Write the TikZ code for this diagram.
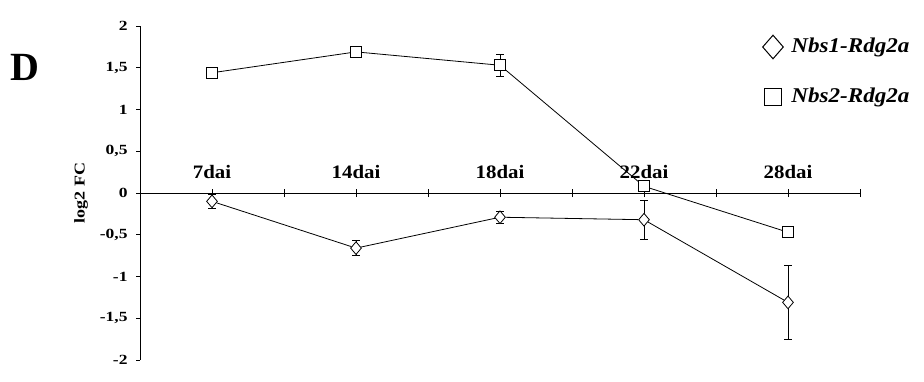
\documentclass[tikz,border=0pt]{standalone}
\usepackage{fontspec}
\setmainfont{Liberation Serif}[BoldFont={Liberation Serif Bold}, ItalicFont={Liberation Serif Italic}, BoldItalicFont={Liberation Serif Bold Italic}]
\usetikzlibrary{shapes.geometric}

\tikzset{
  dmark/.style={diamond, draw, fill=white, inner sep=0pt, minimum width=11pt, minimum height=13pt},
  smark/.style={rectangle, draw, fill=white, inner sep=0pt, minimum size=11pt},
  catlabel/.style={font=\fontsize{19}{19}\selectfont\bfseries, xscale=1.1, transform shape, anchor=base},
  ticklabel/.style={font=\fontsize{14}{14}\selectfont\bfseries, xscale=1.25, transform shape, anchor=east, inner sep=0pt},
  legtext/.style={font=\fontsize{21}{21}\selectfont\bfseries\itshape, xscale=1.1, transform shape, anchor=west, inner sep=0pt},
}

\begin{document}
\begin{tikzpicture}[x=1pt, y=1pt, line width=0.8pt]
\useasboundingbox (0,0) rectangle (924,-381);

\node[font=\fontsize{40}{40}\selectfont\bfseries] (panel) at (25,-67) {D};
\node[font=\fontsize{15}{15}\selectfont\bfseries, rotate=90, xscale=1.2, transform shape] (ylabel) at (81,-193) {log2 FC};

\begin{scope}[shift={(140,-193)}, x=72pt, y=83.5pt]
% axes
\draw[line width=1pt] (0,2) -- (0,-2);
\draw[line width=1pt] (0,0) -- (10,0);
\foreach \v/\t in {2/2, 1.5/{1,5}, 1/1, 0.5/{0,5}, 0/0, -0.5/{-0,5}, -1/-1, -1.5/{-1,5}, -2/-2} {
  \draw (0,\v) -- ++(-4pt,0);
  \node[ticklabel] at ([xshift=-12pt]0,\v) {\t};
}
\foreach \k in {1,...,10}
  \draw (\k,0) ++(0,-4pt) -- ++(0,8pt);
\foreach \k/\t in {1/7dai, 3/14dai, 5/18dai, 7/22dai, 9/28dai}
  \node[catlabel] at ([yshift=15pt]\k,0) {\t};

% error bars
\foreach \x/\y/\e in {1/-0.10/0.08, 3/-0.66/0.09, 5/-0.29/0.07, 7/-0.32/0.23, 9/-1.31/0.44, 5/1.53/0.13} {
  \draw (\x,\y-\e) -- (\x,\y+\e);
  \draw (\x,\y-\e) ++(-4pt,0) -- ++(8pt,0);
  \draw (\x,\y+\e) ++(-4pt,0) -- ++(8pt,0);
}

% Nbs1-Rdg2a
\node[dmark] (d1) at (1,-0.10) {};
\node[dmark] (d2) at (3,-0.66) {};
\node[dmark] (d3) at (5,-0.29) {};
\node[dmark] (d4) at (7,-0.32) {};
\node[dmark] (d5) at (9,-1.31) {};
% Nbs2-Rdg2a
\node[smark] (s1) at (1,1.44) {};
\node[smark] (s2) at (3,1.69) {};
\node[smark] (s3) at (5,1.53) {};
\node[smark] (s4) at (7,0.08) {};
\node[smark] (s5) at (9,-0.47) {};
\end{scope}

\draw (d1) -- (d2) -- (d3) -- (d4) -- (d5);
\draw (s1) -- (s2) -- (s3) -- (s4) -- (s5);

% legend
\node[diamond, draw, inner sep=0pt, minimum width=21pt, minimum height=24pt, line width=1pt] (legd) at (773,-47) {};
\node[legtext] (legdtext) at (791,-47) {Nbs1-Rdg2a};
\node[rectangle, draw, inner sep=0pt, minimum size=17pt, line width=1pt] (legs) at (773,-97) {};
\node[legtext] (legstext) at (791,-97) {Nbs2-Rdg2a};
\end{tikzpicture}
\end{document}
